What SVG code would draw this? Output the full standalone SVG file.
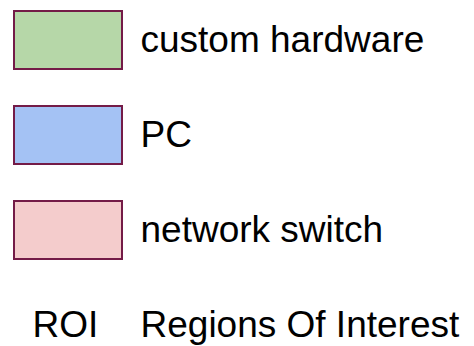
<svg xmlns="http://www.w3.org/2000/svg" width="474" height="346" viewBox="0 0 474 346">
  <style>
    .swatch { stroke: #741b47; stroke-width: 2; }
    .label { font-family: "Liberation Sans", Arial, sans-serif; font-size: 37px; fill: #000000; }
  </style>
  <rect x="0" y="0" width="474" height="346" fill="#ffffff"/>
  <g id="legend-custom-hardware">
    <rect class="swatch" x="14" y="11" width="108" height="58" fill="#b6d7a8"/>
    <text class="label" x="140.5" y="52">custom hardware</text>
  </g>
  <g id="legend-pc">
    <rect class="swatch" x="14" y="106" width="108" height="58" fill="#a4c2f4"/>
    <text class="label" x="140.5" y="147">PC</text>
  </g>
  <g id="legend-network-switch">
    <rect class="swatch" x="14" y="201" width="108" height="58" fill="#f4cccc"/>
    <text class="label" x="140.5" y="242">network switch</text>
  </g>
  <g id="legend-roi">
    <text class="label" x="32.5" y="336.5">ROI</text>
    <text class="label" x="140.5" y="336.5">Regions Of Interest</text>
  </g>
</svg>
